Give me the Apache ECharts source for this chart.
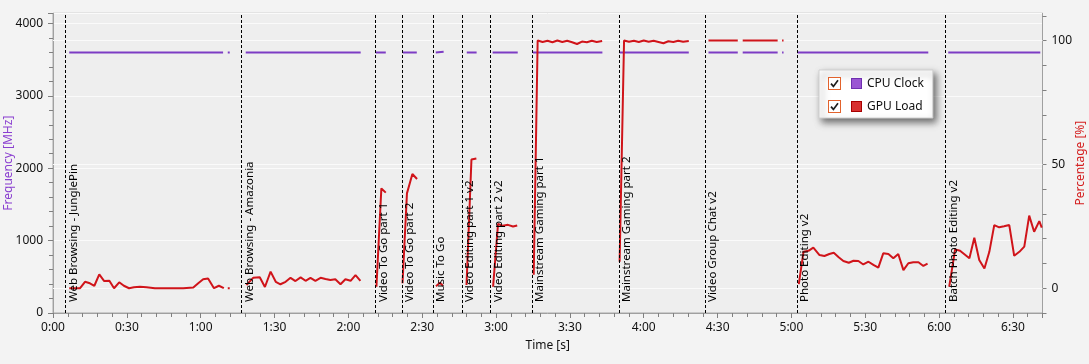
<!DOCTYPE html>
<html><head><meta charset="utf-8">
<script src="https://cdn.jsdelivr.net/npm/echarts@6/dist/echarts.min.js"></script>
<style>html,body{margin:0;padding:0;background:#f3f3f3}#c{width:1089px;height:364px}</style>
</head><body><div id="c"></div><script>
// ---- data ----
const segNames = ['Web Browsing - JunglePin','Web Browsing - Amazonia','Video To Go part 1','Video To Go part 2','Music To Go','Video Editing part 1 v2','Video Editing part 2 v2','Mainstream Gaming part 1','Mainstream Gaming part 2','Video Group Chat v2','Photo Editing v2','Batch Photo Editing v2'];
const segStart = [5.1, 76.6, 131.0, 141.8, 154.4, 166.2, 177.7, 194.6, 229.9, 264.8, 302.2, 362.5];

const cpuTime  = [6.6, 69.1, 70.2, 71.0, 71.8, 75, 78.3, 125.0, 128, 131.1, 135.2, 139, 142.1, 147.8, 151, 155.5, 158.7, 163, 168.1, 172.1, 175, 178.6, 188.8, 192, 195.0, 223.2, 227, 230.2, 258.3, 262, 266.3, 278.2, 279.2, 280.2, 294.4, 295.3, 296.2, 296.8, 299, 302.4, 355.6, 360, 363.7, 401.1];
const cpuClock = [3600, 3600, null, 3600, 3600, null, 3600, 3600, null, 3600, 3600, null, 3600, 3600, null, 3600, 3610, null, 3600, 3600, null, 3600, 3600, null, 3600, 3600, null, 3600, 3600, null, 3600, 3600, null, 3600, 3600, null, 3600, 3600, null, 3600, 3600, null, 3600, 3600];

const gpuTime = [
  6.6, 11, 13, 15, 16.8, 18.8, 20.8, 22.9, 24.8, 26.9, 28.8, 30.9, 32.9, 35.3, 38, 41.4, 47.5, 52.9, 57, 59, 61, 63, 65.4, 67.4, 69.4, 70.2, 71.0, 71.8, 75,
  78.6, 81.3, 84, 86.1, 88.4, 90.5, 92.4, 94.5, 96.5, 98.5, 100.6, 102.6, 104.6, 106.6, 108.7, 110.7, 112.7, 114.7, 116.8, 118.8, 120.9, 122.9, 124.9, 128,
  131.4, 133.4, 135.2, 139,
  142.0, 143.8, 146.0, 147.9, 151,
  155.6, 157.2, 158.4, 163,
  168.0, 170.0, 172.0, 175,
  178.8, 180.8, 182.8, 184.8, 186.9, 188.6, 192,
  195.3, 196.9, 198.9, 200.9, 202.9, 204.9, 206.9, 208.9, 210.9, 212.9, 214.9, 216.9, 218.9, 220.9, 223.1, 227,
  230.2, 232, 234, 236, 238, 240, 242, 244, 246, 248, 250, 252, 254, 256, 258.3, 262,
  266.3, 278.2, 279.2, 280.2, 294.4, 295.3, 296.2, 296.8, 299,
  303.0, 304.9, 306.9, 308.9, 311.4, 313.4, 315.4, 317.2, 319.2, 321.1, 323.3, 325.2, 327.2, 329.2, 331.3, 333.3, 335.3, 337.3, 339.4, 341.4, 343.4, 345.5, 347.5, 349.5, 351.6, 353.6, 355.3, 360,
  364.1, 366.5, 368.5, 372.3, 374.3, 376.3, 378.4, 380.4, 382.4, 384.4, 386.4, 388.5, 390.5, 392.6, 394.6, 396.6, 398.6, 400.7, 401.7
];
const gpuLoad = [
  0, 0, 2.6, 2.0, 1.0, 5.6, 2.9, 3.0, 0, 2.4, 1.0, 0, 0.4, 0.6, 0.4, 0, 0, 0, 0.3, 2.0, 3.6, 3.9, 0, 1.0, 0, null, 0, 0, null,
  1.3, 4.2, 4.4, 0.5, 6.7, 2.6, 1.6, 2.6, 4.2, 2.9, 4.4, 3.0, 4.2, 3.0, 4.2, 3.7, 3.3, 3.6, 1.6, 3.6, 3.0, 5.3, 3.0, null,
  0.6, 40.3, 38.6, null,
  2.0, 38.3, 46.1, 44.1, null,
  0.8, 2.2, 1.0, null,
  1.3, 52.0, 52.4, null,
  0.6, 26.0, 25.2, 25.6, 24.9, 25.3, null,
  5.4, 100, 99.4, 99.9, 99.3, 100, 99.4, 99.9, 99.3, 98.6, 99.6, 99.3, 99.9, 99.4, 99.8, null,
  10.7, 100, 99.5, 99.9, 99.4, 100, 99.5, 99.9, 99.4, 98.9, 99.7, 99.4, 99.9, 99.5, 99.8, null,
  100, 100, null, 100, 100, null, 100, 100, null,
  1.7, 14.7, 15.1, 16.4, 13.4, 13.0, 13.8, 14.3, 12.5, 11.0, 10.3, 11.1, 11.0, 9.6, 10.7, 9.4, 8.3, 14.1, 13.8, 12.1, 13.8, 7.3, 10.1, 10.5, 10.5, 9.0, 9.9, null,
  0.6, 15.7, 15.1, 12.1, 20.4, 11.4, 8.0, 14.7, 25.5, 24.6, 25.0, 25.5, 13.1, 14.7, 16.8, 29.3, 22.8, 27.1, 24.5
];

const pctLabels = [0, 50, 100];
const seriesNames = ['CPU Clock', 'GPU Load'];

// ---- chart ----
const FONT = '"Noto Sans", "Open Sans", sans-serif';
const pairs = (ts, vs) => ts.map((t, i) => [t, vs[i] === null ? '-' : vs[i]]);
const fmtTime = v => Math.floor(v / 60) + ':' + String(Math.round(v % 60)).padStart(2, '0');
function icon(fill, stroke) {
  const svg = "<svg xmlns='http://www.w3.org/2000/svg' width='34' height='13' viewBox='0 0 34 13'>" +
    "<rect x='0.5' y='0.5' width='12' height='12' fill='#ffffff' stroke='#e2622c'/>" +
    "<path d='M3 6.6 L5.4 9.4 L10 3.2' fill='none' stroke='#1e1e1e' stroke-width='1.7'/>" +
    "<rect x='23.5' y='1.5' width='10' height='10' fill='" + fill + "' stroke='" + stroke + "'/></svg>";
  return 'image://data:image/svg+xml;charset=utf-8,' + encodeURIComponent(svg);
}
const chart = echarts.init(document.getElementById('c'), null, { renderer: 'canvas' });
const tickColor = '#808080';
chart.setOption({
  backgroundColor: '#f3f3f3',
  animation: false,
  textStyle: { fontFamily: FONT },
  grid: { left: 53, right: 46.5, top: 13.3, bottom: 51, containLabel: false, outerBoundsMode: 'none',
    show: true, backgroundColor: '#eeeeee', borderColor: '#a8a8a8', borderWidth: 1 },
  legend: {
    orient: 'vertical', left: 819, top: 70, padding: [7, 9, 5, 9], itemGap: 10, itemWidth: 34, itemHeight: 13,
    backgroundColor: '#ffffff', borderColor: '#d0d0d0', borderWidth: 1, borderRadius: 0,
    shadowBlur: 7, shadowColor: 'rgba(0,0,0,0.55)', shadowOffsetX: 3, shadowOffsetY: 4,
    textStyle: { fontSize: 12, color: '#111', fontFamily: FONT }, selectedMode: false,
    data: [{ name: seriesNames[0], icon: icon('#9a55d3', '#6f2fb0') }, { name: seriesNames[1], icon: icon('#d83030', '#a80000') }]
  },
  xAxis: {
    type: 'value', min: 0, max: 402, interval: 30,
    name: 'Time [s]', nameLocation: 'middle', nameGap: 27, nameMoveOverlap: false,
    nameTextStyle: { color: '#111', fontSize: 12, fontFamily: FONT },
    axisLine: { lineStyle: { color: '#a0a0a0' } },
    axisTick: { length: 5, lineStyle: { color: tickColor } },
    minorTick: { show: true, splitNumber: 5, length: 4, lineStyle: { color: tickColor } },
    axisLabel: { formatter: fmtTime, color: '#111', fontSize: 12, margin: 9, showMaxLabel: false, fontFamily: FONT },
    splitLine: { show: false }
  },
  yAxis: [
    {
      type: 'value', min: 0, max: 4140, interval: 1000, position: 'left',
      name: 'Frequency [MHz]', nameLocation: 'middle', nameGap: 38, nameMoveOverlap: false,
      nameTextStyle: { color: '#8a3fd0', fontSize: 12, fontFamily: FONT },
      axisLine: { show: true, lineStyle: { color: '#a0a0a0' } },
      axisTick: { show: true, length: 5, lineStyle: { color: tickColor } },
      minorTick: { show: true, splitNumber: 5, length: 4, lineStyle: { color: tickColor } },
      axisLabel: { color: '#111', fontSize: 12, margin: 10, showMaxLabel: false, fontFamily: FONT, formatter: v => String(v) },
      splitLine: { show: true, lineStyle: { color: '#fafafa', width: 1 } }
    },
    {
      type: 'value', min: -10, max: 111, interval: 10, position: 'right',
      name: 'Percentage [%]', nameLocation: 'middle', nameGap: 32, nameMoveOverlap: false,
      nameTextStyle: { color: '#d42020', fontSize: 12, fontFamily: FONT },
      axisLine: { show: true, lineStyle: { color: '#a0a0a0' } },
      axisTick: { show: true, length: 4, lineStyle: { color: tickColor } },
      axisLabel: { color: '#111', fontSize: 12, margin: 9, showMaxLabel: false, fontFamily: FONT,
        formatter: v => pctLabels.indexOf(v) >= 0 ? String(v) : '' },
      splitLine: { show: false }
    }
  ],
  series: [
    {
      name: seriesNames[0], type: 'line', yAxisIndex: 0, z: 3, symbol: 'none', connectNulls: false,
      lineStyle: { color: '#7d3cc4', width: 2 }, itemStyle: { color: '#7d3cc4' },
      data: pairs(cpuTime, cpuClock),
      markLine: {
        silent: true, symbol: ['none', 'none'], z: 5,
        lineStyle: { color: '#000000', type: [3, 2], width: 1 },
        label: { show: true, position: 'insideStartBottom', formatter: '{b}', color: '#000', fontSize: 11.5, fontFamily: FONT, distance: [11, 2] },
        emphasis: { disabled: true },
        data: segStart.map((t, i) => ({ xAxis: t, name: segNames[i] }))
      }
    },
    {
      name: seriesNames[1], type: 'line', yAxisIndex: 1, z: 4, symbol: 'none', connectNulls: false,
      lineStyle: { color: '#d0141a', width: 2 }, itemStyle: { color: '#d0141a' },
      data: pairs(gpuTime, gpuLoad),
      markLine: {
        silent: true, symbol: ['none', 'none'], z: 1, label: { show: false },
        lineStyle: { color: '#fafafa', type: 'solid', width: 1 },
        emphasis: { disabled: true },
        data: pctLabels.map(v => ({ yAxis: v }))
      }
    }
  ]
});
</script></body></html>
